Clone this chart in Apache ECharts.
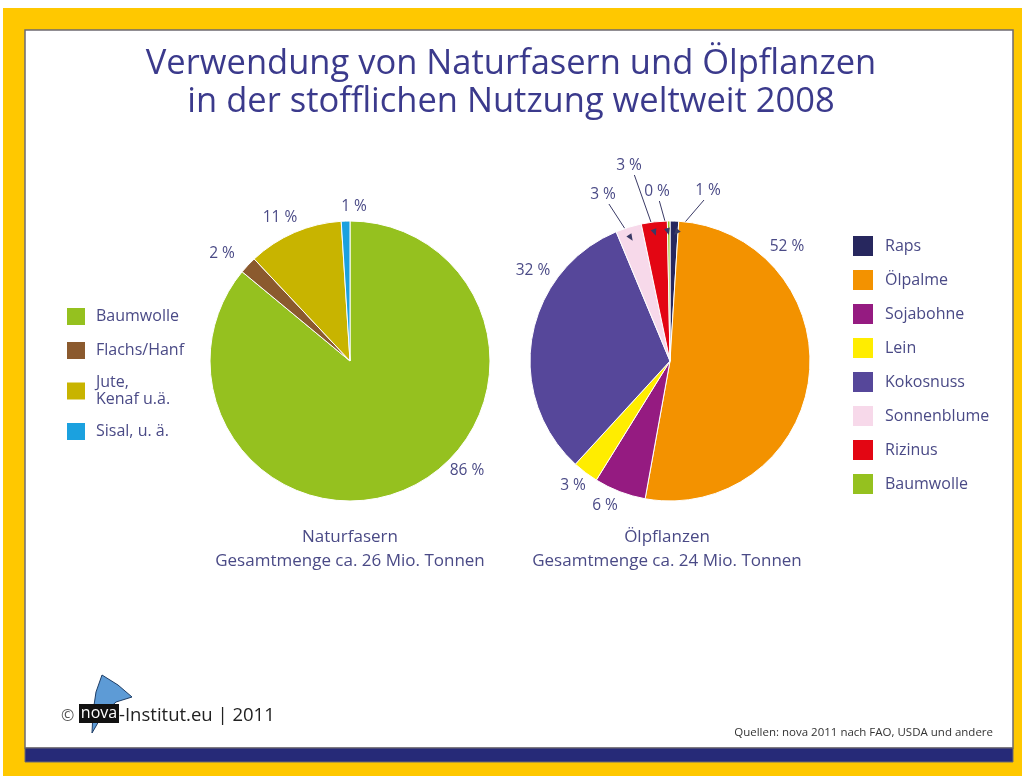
<!DOCTYPE html>
<html>
<head>
<meta charset="utf-8">
<script src="https://cdn.jsdelivr.net/npm/echarts@6/dist/echarts.min.js"></script>
<style>
  html, body { margin: 0; padding: 0; background: #fff; }
  #chart { width: 1022px; height: 778px; }
</style>
</head>
<body>
<div id="chart"></div>
<script>
// Naturfasern
const fiberNames = ['Baumwolle', 'Flachs/Hanf', 'Jute,\nKenaf u.ä.', 'Sisal, u. ä.'];
const fiberValues = [86, 2, 11, 1];
// Ölpflanzen
const oilNames = ['Raps', 'Ölpalme', 'Sojabohne', 'Lein', 'Kokosnuss', 'Sonnenblume', 'Rizinus', 'Baumwolle'];
const oilValues = [1, 52, 6, 3, 32, 3, 3, 0.3];

const fiberColors = ['#95c11f', '#8b5a2e', '#c8b400', '#1ba1df'];
const oilColors = ['#27275e', '#f39200', '#951b81', '#ffed00', '#56479a', '#f7d9ea', '#e30613', '#95c11f'];

const textColor = '#4a4a86';
const font = 'Open Sans';

// pie geometry
const leftCenter = [350, 361];
const rightCenter = [670, 361];
const pieR = 140;

// label anchor points (text centres)
const fiberLabelPos = [[467, 471], [222, 254], [280, 218], [354, 207]];
const oilLabelPos = [[708, 191], [787, 247], [605, 506], [573, 486], [533, 271], [603, 195], [629, 166], [657, 192]];
// slices whose label points at the slice with an arrow
const arrowIdx = [0, 5, 6, 7];

function midAngles(values) {
  const total = values.reduce((a, b) => a + b, 0);
  let acc = 0;
  return values.map(v => {
    const mid = (acc + v / 2) / total;
    acc += v;
    return (90 - mid * 360) * Math.PI / 180;
  });
}
const oilMid = midAngles(oilValues);

function arrowTip(i) {
  const a = oilMid[i];
  const r = pieR * 0.9;
  return [rightCenter[0] + r * Math.cos(a), rightCenter[1] - r * Math.sin(a)];
}
function arrowStart(i) {
  const p = oilLabelPos[i];
  const t = arrowTip(i);
  return [p[0] + Math.max(-4, Math.min(6, (t[0] - p[0]) * 0.2)), p[1] + 9];
}

const arrowHeads = arrowIdx.map(i => {
  const s = arrowStart(i), t = arrowTip(i);
  const dx = t[0] - s[0], dy = t[1] - s[1];
  const len = Math.sqrt(dx * dx + dy * dy);
  const ux = dx / len, uy = dy / len;
  const L = 7, W = 3;
  return {
    type: 'polygon', z: 20,
    shape: { points: [t, [t[0] - ux * L - uy * W, t[1] - uy * L + ux * W], [t[0] - ux * L + uy * W, t[1] - uy * L - ux * W]] },
    style: { fill: '#3a3a66' }
  };
});

function pieLabel(p) {
  return Math.round(p.value) + ' %';
}

const chart = echarts.init(document.getElementById('chart'));

chart.setOption({
  backgroundColor: '#ffffff',
  title: {
    text: 'Verwendung von Naturfasern und Ölpflanzen\nin der stofflichen Nutzung weltweit 2008',
    left: 'center',
    top: 45,
    padding: 0,
    textStyle: { fontFamily: font, fontSize: 34.5, fontWeight: 'normal', color: '#3b3a8c', lineHeight: 38 }
  },
  legend: [
    {
      data: fiberNames,
      orient: 'vertical',
      left: 65, top: 306,
      padding: 0,
      itemWidth: 20, itemHeight: 19, itemGap: 13,
      icon: 'rect',
      selectedMode: false,
      textStyle: { fontFamily: font, fontSize: 16, color: textColor, lineHeight: 17, padding: [0, 0, 0, 5] }
    },
    {
      data: oilNames,
      orient: 'vertical',
      left: 851, top: 234,
      padding: 0,
      itemWidth: 22, itemHeight: 22, itemGap: 10,
      icon: 'rect',
      selectedMode: false,
      textStyle: { fontFamily: font, fontSize: 16, color: textColor, lineHeight: 18, padding: [0, 0, 0, 6] }
    }
  ],
  graphic: [
    { type: 'rect', z: -10, shape: { x: 3, y: 8, width: 1019, height: 768 }, style: { fill: '#ffc800' } },
    { type: 'rect', z: -9, shape: { x: 25, y: 30, width: 988, height: 718 }, style: { fill: '#ffffff', stroke: '#6e6a70', lineWidth: 1.5 } },
    { type: 'rect', z: -8, shape: { x: 25, y: 748, width: 988, height: 14 }, style: { fill: '#262a78', stroke: '#6e6a70', lineWidth: 1 } },
    { type: 'text', x: 350, y: 525, style: { text: 'Naturfasern\nGesamtmenge ca. 26 Mio. Tonnen', align: 'center', verticalAlign: 'top', fontFamily: font, fontSize: 17, lineHeight: 24, fill: textColor } },
    { type: 'text', x: 667, y: 525, style: { text: 'Ölpflanzen\nGesamtmenge ca. 24 Mio. Tonnen', align: 'center', verticalAlign: 'top', fontFamily: font, fontSize: 17, lineHeight: 24, fill: textColor } },
    { type: 'text', x: 993, y: 733, style: { text: 'Quellen: nova 2011 nach FAO, USDA und andere', align: 'right', verticalAlign: 'middle', fontFamily: font, fontSize: 11.5, fill: '#333' } },
    // logo
    { type: 'text', x: 61, y: 716, style: { text: '©', verticalAlign: 'middle', fontFamily: font, fontSize: 16, fill: '#555' } },
    { type: 'polygon', z: 5, shape: { points: [[92, 733], [93, 712], [96, 692], [102, 675], [118, 685], [132, 697], [116, 702], [103, 714]] }, style: { fill: '#5d9bd6', stroke: '#1e3d66', lineWidth: 1 } },
    { type: 'rect', z: 6, shape: { x: 79, y: 704, width: 40, height: 19 }, style: { fill: '#111' } },
    { type: 'text', z: 7, x: 99, y: 713, style: { text: 'nova', align: 'center', verticalAlign: 'middle', fontFamily: font, fontSize: 16, fill: '#fff' } },
    { type: 'text', x: 119, y: 716, style: { text: '-Institut.eu | 2011', verticalAlign: 'middle', fontFamily: font, fontSize: 18.5, fill: '#222' } }
  ].concat(arrowHeads),
  series: [
    {
      name: 'Naturfasern',
      type: 'pie',
      center: leftCenter,
      radius: pieR,
      startAngle: 90,
      clockwise: true,
      avoidLabelOverlap: false,
      itemStyle: { borderColor: '#ffffff', borderWidth: 1 },
      label: { show: true, position: 'outside', formatter: pieLabel, fontFamily: font, fontSize: 15.5, color: textColor },
      labelLine: { show: false },
      labelLayout: function (p) {
        const pos = fiberLabelPos[p.dataIndex];
        return { x: pos[0], y: pos[1], align: 'center', verticalAlign: 'middle' };
      },
      emphasis: { disabled: true },
      data: fiberNames.map((n, i) => ({ name: n, value: fiberValues[i], itemStyle: { color: fiberColors[i] } }))
    },
    {
      name: 'Ölpflanzen',
      type: 'pie',
      center: rightCenter,
      radius: pieR,
      startAngle: 90,
      clockwise: true,
      avoidLabelOverlap: false,
      itemStyle: { borderColor: '#ffffff', borderWidth: 1 },
      label: { show: true, position: 'outside', formatter: pieLabel, fontFamily: font, fontSize: 15.5, color: textColor },
      labelLine: { show: false, lineStyle: { color: '#3a3a66', width: 1 } },
      labelLayout: function (p) {
        const i = p.dataIndex;
        const pos = oilLabelPos[i];
        const out = { x: pos[0], y: pos[1], align: 'center', verticalAlign: 'middle' };
        if (arrowIdx.indexOf(i) >= 0) {
          out.labelLinePoints = [arrowStart(i), arrowTip(i)];
        }
        return out;
      },
      emphasis: { disabled: true },
      data: oilNames.map((n, i) => ({
        name: n,
        value: oilValues[i],
        itemStyle: { color: oilColors[i] },
        labelLine: { show: arrowIdx.indexOf(i) >= 0 }
      }))
    }
  ]
});
</script>
</body>
</html>
